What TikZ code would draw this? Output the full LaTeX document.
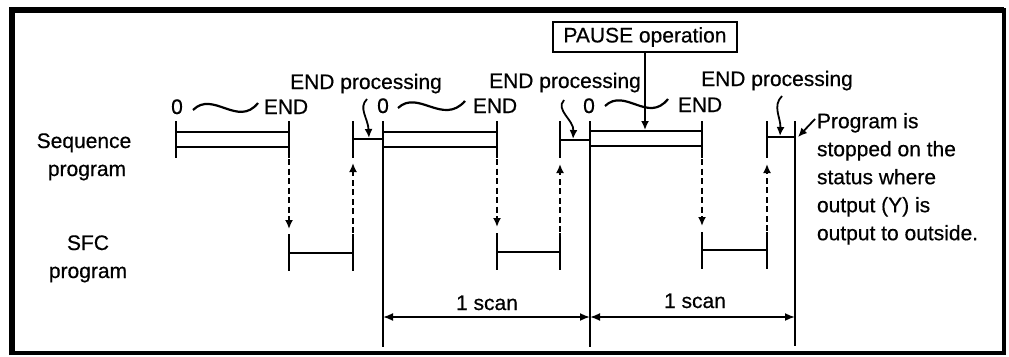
\documentclass[tikz,border=0pt]{standalone}
\usepackage{fontspec}
\setmainfont[FakeBold=0.5]{Liberation Sans}
\usetikzlibrary{arrows.meta}
\begin{document}
\begin{tikzpicture}[x=1pt,y=-1pt,
 txt/.style={font=\fontsize{21}{28}\selectfont, inner sep=0pt, outer sep=0pt},
 bar/.style={line width=2.2pt},
 tk/.style={line width=2.5pt},
 arr/.style={line width=1.8pt,-{Latex[length=9pt,width=8pt]}},
 darr/.style={arr, dash pattern=on 6pt off 3.5pt},
 dim/.style={line width=1.8pt,{Latex[length=10pt,width=8pt]}-{Latex[length=10pt,width=8pt]}},
 wave/.style={line width=2.2pt},
]
\useasboundingbox (0,0) rectangle (1009,356);
% frame
\draw[line width=6pt] (11.5,355) -- (11.5,10) -- (1004,10);
\draw[line width=4pt] (1004,8) -- (1004,353) -- (9,353);

% row labels
\node[txt,anchor=base] (lseq) at (84,148) {Sequence};
\node[txt,anchor=base] (lseqp) at (87,176) {program};
\node[txt,anchor=base] (lsfc) at (88,250) {SFC};
\node[txt,anchor=base] (lsfcp) at (88,278) {program};

% ---------- cycle 1
\draw[tk] (176,121) -- (176,158);
\draw[tk] (289,121) -- (289,158);
\draw[bar] (176,132) -- (289,132) (176,147) -- (289,147);
\node[txt,anchor=base] (z1) at (177,114) {0};
\node[txt,anchor=base] (end1) at (286,114) {END};
\draw[wave] (193,110) .. controls (213,90) and (238,128) .. (258,103);
\coordinate (d1s) at (289,159); \coordinate (d1t) at (289,229);
\draw[darr] (d1s) -- (d1t);
\draw[tk] (289,234) -- (289,271);
\draw[tk] (353,234) -- (353,271);
\draw[bar] (289,253) -- (353,253);
\coordinate (u1s) at (353,233); \coordinate (u1t) at (353,163);
\draw[darr] (u1s) -- (u1t);
\draw[tk] (353,121) -- (353,158);
\draw[bar] (353,139) -- (383,139);
\node[txt,anchor=base] (ep1) at (366,89) {END processing};
\coordinate (c1s) at (367,99); \coordinate (c1t) at (369,138);
\draw[arr] (c1s) .. controls (358,108) and (368,118) .. (c1t);
\draw[tk] (383,121) -- (383,347);

% ---------- cycle 2
\draw[tk] (497,121) -- (497,158);
\draw[bar] (383,132) -- (497,132) (383,147) -- (497,147);
\node[txt,anchor=base] (z2) at (383,113) {0};
\node[txt,anchor=base] (end2) at (495,113) {END};
\draw[wave] (398,108) .. controls (418,89) and (443,126) .. (465,101);
\coordinate (d2s) at (497,159); \coordinate (d2t) at (497,227);
\draw[darr] (d2s) -- (d2t);
\draw[tk] (497,233) -- (497,270);
\draw[tk] (560,233) -- (560,270);
\draw[bar] (497,252) -- (560,252);
\coordinate (u2s) at (560,232); \coordinate (u2t) at (560,164);
\draw[darr] (u2s) -- (u2t);
\draw[tk] (560,121) -- (560,158);
\draw[bar] (560,140) -- (590,140);
\node[txt,anchor=base] (ep2) at (565,88) {END processing};
\coordinate (c2s) at (564,100); \coordinate (c2t) at (573,139);
\draw[arr] (c2s) .. controls (555,110) and (574,120) .. (c2t);
\draw[tk] (590,121) -- (590,347);

% ---------- cycle 3
\draw[tk] (702,121) -- (702,158);
\draw[bar] (590,131) -- (702,131) (590,146) -- (702,146);
\node[txt,anchor=base] (z3) at (589,113) {0};
\node[txt,anchor=base] (end3) at (700,112) {END};
\draw[wave] (605,106) .. controls (625,87) and (648,124) .. (668,99);
\coordinate (d3s) at (702,159); \coordinate (d3t) at (702,226);
\draw[darr] (d3s) -- (d3t);
\draw[tk] (702,232) -- (702,269);
\draw[tk] (767,232) -- (767,269);
\draw[bar] (702,250) -- (767,250);
\coordinate (u3s) at (767,231); \coordinate (u3t) at (767,164);
\draw[darr] (u3s) -- (u3t);
\draw[tk] (767,121) -- (767,158);
\draw[bar] (767,137) -- (795,137);
\node[txt,anchor=base] (ep3) at (777,86) {END processing};
\coordinate (c3s) at (782,96); \coordinate (c3t) at (780,136);
\draw[arr] (c3s) .. controls (772,106) and (781,118) .. (c3t);
\draw[tk] (795,121) -- (795,346);

% PAUSE
\node[txt, draw, line width=1.8pt, minimum width=184pt, minimum height=30pt] (pause) at (645,37) {PAUSE operation};
\coordinate (pt) at (645,130);
\draw[arr] (pause.south) -- (pt);

% note
\node[txt, align=left, anchor=north west] (prog) at (817,113) {Program is\\stopped on the\\status where\\output (Y) is\\output to outside.};
\coordinate (ps) at (815,119); \coordinate (pp) at (798,137);
\draw[arr] (ps) -- (pp);

% scan dimensions
\coordinate (m1) at (383,317); \coordinate (m2) at (590,317); \coordinate (m3) at (795,317);
\draw[dim] (m1) -- (m2);
\draw[dim] (m2) -- (m3);
\node[txt,anchor=base] (scan1) at (487,310) {1 scan};
\node[txt,anchor=base] (scan2) at (695,308) {1 scan};
\end{tikzpicture}
\end{document}
